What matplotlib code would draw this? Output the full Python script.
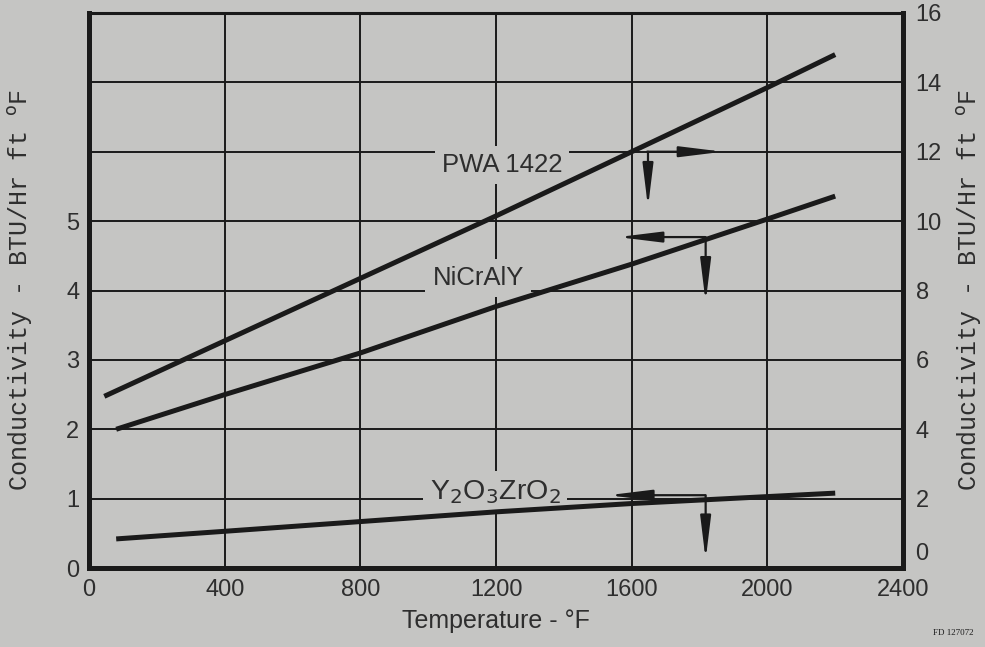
import matplotlib.pyplot as plt
from matplotlib.transforms import ScaledTranslation

# temperatures (F)
temps = [80, 400, 800, 1200, 1600, 2000, 2200]
temps_pwa = [45, 400, 800, 1200, 1600, 2000, 2200]

# PWA 1422 reads on the right axis, the others on the left axis
pwa_1422 = [4.95, 6.55, 8.35, 10.15, 12.0, 13.85, 14.8]
nicraly = [2.0, 2.5, 3.1, 3.77, 4.38, 5.03, 5.36]
y2o3zro2 = [0.42, 0.53, 0.67, 0.81, 0.93, 1.03, 1.08]

x_ticks = [0, 400, 800, 1200, 1600, 2000, 2400]
left_ticks = [0, 1, 2, 3, 4, 5]
right_ticks = [0, 2, 4, 6, 8, 10, 12, 14, 16]

bg = "#c5c5c3"
ink = "#1a1a1a"
txt = "#2e2e2e"
sans = "Liberation Sans"
mono = "Liberation Mono"
ylab = "Conductivity - BTU/Hr ft $^{\\rm o}$F"

fig = plt.figure(figsize=(9.85, 6.47), dpi=100, facecolor=bg)
ax = fig.add_axes([0.0904, 0.122, 0.8264, 0.858], facecolor=bg)
ax.set_xlim(0, 2400)
ax.set_ylim(0, 8)

# grid
for xv in x_ticks[1:-1]:
    ax.axvline(xv, color=ink, lw=1.4, zorder=1)
for yv in range(1, 8):
    ax.axhline(yv, color=ink, lw=1.4, zorder=1)

for s in ax.spines.values():
    s.set_linewidth(3.6)
    s.set_color(ink)
ax.spines["top"].set_linewidth(2.2)

ax.set_xticks(x_ticks)
ax.set_yticks(left_ticks)
ax.tick_params(length=0, labelsize=17, labelcolor=txt)
ax.tick_params(axis="x", pad=8)
ax.tick_params(axis="y", pad=7)
for t in ax.get_xticklabels() + ax.get_yticklabels():
    t.set_family(sans)
ax.set_xlabel("Temperature - °F", fontsize=18, family=sans, color=txt)
ax.xaxis.set_label_coords(0.5, -0.074)
ax.set_ylabel(ylab, fontsize=18, family=mono, color=txt)
ax.yaxis.set_label_coords(-0.066, 0.5)

ax2 = ax.twinx()
ax2.set_ylim(0, 16)
ax2.set_yticks(right_ticks)
ax2.tick_params(length=0, labelsize=17, labelcolor=txt, pad=9)
for t in ax2.get_yticklabels():
    t.set_family(sans)
# the right-hand 0 sits a little higher, clear of the 2400
lbl0 = ax2.get_yticklabels()[0]
lbl0.set_transform(lbl0.get_transform() + ScaledTranslation(0, 12 / 72, fig.dpi_scale_trans))
for s in ax2.spines.values():
    s.set_visible(False)
ax2.set_ylabel(ylab, fontsize=18, family=mono, color=txt)
ax2.yaxis.set_label_coords(1.064, 0.5)

# curves
ax.plot(temps, nicraly, color=ink, lw=3.6, zorder=5, solid_capstyle="butt")
ax.plot(temps, y2o3zro2, color=ink, lw=3.6, zorder=5, solid_capstyle="butt")
ax2.plot(temps_pwa, pwa_1422, color=ink, lw=3.6, zorder=5, solid_capstyle="butt")

# labels on the curves
lbl = dict(family=sans, color=txt, ha="center", va="center",
           zorder=4, bbox=dict(facecolor=bg, edgecolor="none", pad=5))
ax.text(1218, 5.81, "PWA 1422", fontsize=18.5, **lbl)
ax.text(1147, 4.18, "NiCrAlY", fontsize=18.5, **lbl)
ax.text(1197, 1.1, "Y$_2$O$_3$ZrO$_2$", fontsize=20.5, **lbl)

# reading arrows: (start, end) in left-axis units
arrows = [((1645, 6.0), (1869, 6.0)), ((1648, 6.0), (1648, 5.2)),
          ((1816, 4.77), (1560, 4.77)), ((1818, 4.77), (1818, 3.83)),
          ((1816, 1.05), (1531, 1.05)), ((1818, 1.05), (1818, 0.12))]
for (x0, y0), (x1, y1) in arrows:
    ax.annotate("", xy=(x1, y1), xytext=(x0, y0), zorder=6,
                arrowprops=dict(arrowstyle="-|>,head_length=2.6,head_width=0.32",
                                color=ink, lw=1.6, shrinkA=0, shrinkB=0))

fig.text(0.988, 0.022, "FD 127072", fontsize=6.5, family="Liberation Serif",
         color=ink, ha="right", va="center")

fig.savefig("out.png", dpi=100, facecolor=bg)
